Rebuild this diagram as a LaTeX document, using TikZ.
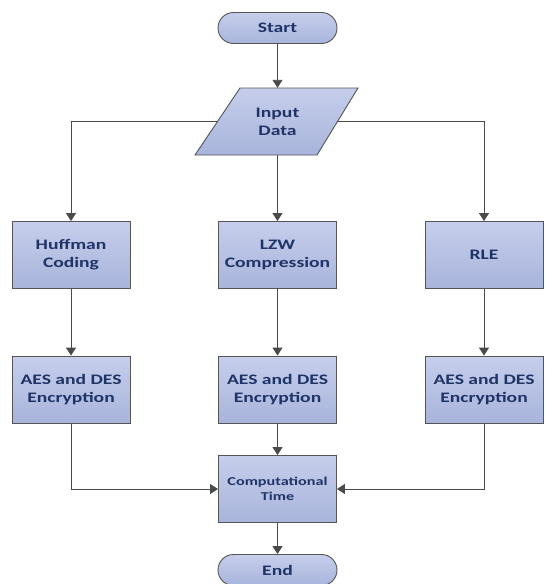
\documentclass[tikz,border=0pt]{standalone}
\usepackage{fontspec}
\setmainfont{Carlito}
\newfontfamily\boxfont[FakeStretch=1.35]{Carlito}
\usetikzlibrary{shapes.misc,arrows.meta}
\definecolor{boxtop}{HTML}{C6CEEB}
\definecolor{boxbot}{HTML}{A8B4DC}
\definecolor{edgegray}{HTML}{555555}
\definecolor{navy}{HTML}{1F3466}
\definecolor{linegray}{HTML}{4A4A4A}
\tikzset{
  base/.style={draw=edgegray, line width=0.9pt, top color=boxtop, bottom color=boxbot,
    text=navy, font=\boxfont\bfseries\fontsize{14.5}{18}\selectfont, align=center},
  procbox/.style={base, rectangle, minimum width=118pt, minimum height=67pt, inner sep=0pt},
  term/.style={base, rounded rectangle, minimum width=119pt, minimum height=31pt, inner sep=0pt},
  conn/.style={draw=linegray, line width=0.9pt, -{Triangle[length=8pt,width=10pt]}},
  plain/.style={draw=linegray, line width=0.9pt}
}
\begin{document}
\begin{tikzpicture}[x=1pt,y=-1pt]
\useasboundingbox (0,0) rectangle (544,584);
% parallelogram drawn directly
\shadedraw[draw=edgegray, line width=0.9pt, top color=boxtop, bottom color=boxbot]
  (240,88) -- (358,88) -- (317,155) -- (195,155) -- cycle;
\node (start) [term] at (277.5,28) {Start};
\node (input) [text=navy, font=\boxfont\bfseries\fontsize{14.5}{18}\selectfont, align=center,
  minimum width=120pt, minimum height=67pt, inner sep=0pt] at (277.5,121.5) {Input\\Data};
\node (huff) [procbox] at (71,255) {Huffman\\Coding};
\node (lzw) [procbox] at (277.5,255) {LZW\\Compression};
\node (rle) [procbox] at (484,255) {RLE};
\node (aes1) [procbox] at (71,389.5) {AES and DES\\Encryption};
\node (aes2) [procbox] at (277.5,389.5) {AES and DES\\Encryption};
\node (aes3) [procbox] at (484,389.5) {AES and DES\\Encryption};
\node (comp) [procbox, font=\boxfont\bfseries\fontsize{12}{15}\selectfont] at (277.5,489) {Computational\\Time};
\node (end) [term] at (277.5,570) {End};
\draw[conn] (start) -- (input.north);
\draw[conn] (input.west) -| (huff.north);
\draw[conn] (input.south) -- (lzw.north);
\draw[conn] (input.east) -| (rle.north);
\draw[conn] (huff) -- (aes1);
\draw[conn] (lzw) -- (aes2);
\draw[conn] (rle) -- (aes3);
\draw[conn] (aes1.south) |- (comp.west);
\draw[conn] (aes2) -- (comp);
\draw[conn] (aes3.south) |- (comp.east);
\draw[conn] (comp) -- (end);
\end{tikzpicture}
\end{document}
